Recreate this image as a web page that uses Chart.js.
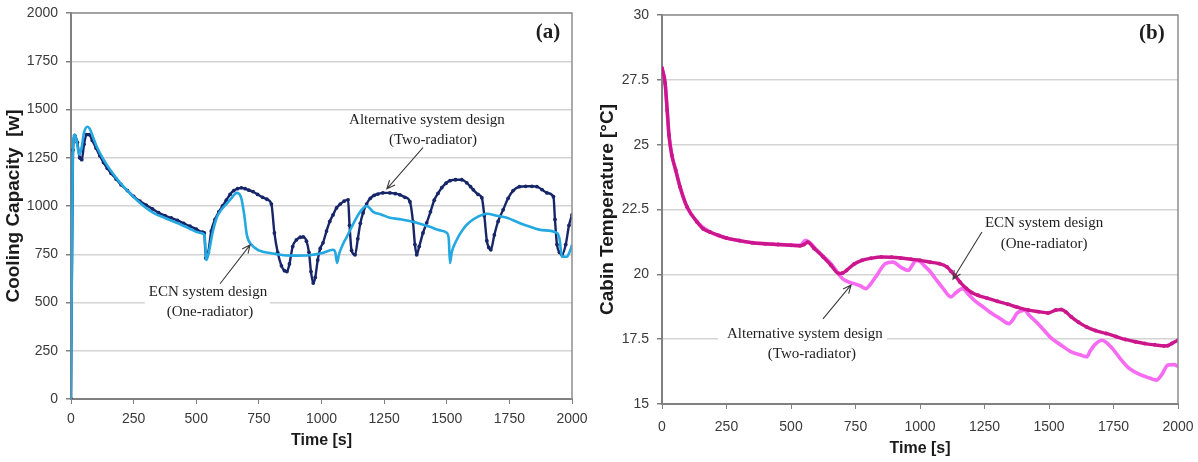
<!DOCTYPE html>
<html><head><meta charset="utf-8">
<script src="https://cdn.jsdelivr.net/npm/chart.js@4.4.1/dist/chart.umd.min.js"></script>
<style>
html,body{margin:0;padding:0;background:#fff;width:1198px;height:462px;overflow:hidden;}
#c1{position:absolute;left:0;top:0;width:590px;height:462px;}
#c2{position:absolute;left:590px;top:0;width:608px;height:462px;}
</style></head><body>
<canvas id="c1" width="590" height="462"></canvas>
<canvas id="c2" width="608" height="462"></canvas>
<script>
// ---------- DATA ----------
const timeTicks = [0,250,500,750,1000,1250,1500,1750,2000];
const capacityTicks = [0,250,500,750,1000,1250,1500,1750,2000];
const tempTicks = [15,17.5,20,22.5,25,27.5,30];

// (a) Cooling capacity [W] — Alternative system design (Two-radiator)
const altCapacity = [[0,0],[8,1290],[15,1365],[25,1330],[35,1250],[43,1240],[52,1320],[62,1370],[72,1370],[85,1340],[100,1300],[115,1260],[130,1225],[145,1195],[160,1170],[180,1140],[200,1110],[225,1080],[250,1050],[275,1025],[300,1005],[325,985],[350,965],[375,950],[400,938],[425,925],[450,910],[475,895],[500,880],[525,865],[532,860],[538,730],[548,760],[560,870],[575,930],[590,970],[605,1000],[620,1030],[635,1060],[650,1080],[665,1090],[680,1094],[695,1090],[710,1082],[727,1074],[745,1060],[765,1045],[782,1035],[800,1010],[812,860],[825,760],[840,690],[852,665],[862,660],[872,700],[885,790],[900,825],[915,838],[927,840],[940,818],[950,760],[958,660],[967,601],[975,630],[985,720],[995,780],[1006,809],[1020,870],[1033,920],[1046,954],[1060,990],[1075,1010],[1090,1025],[1106,1032],[1112,900],[1120,770],[1134,747],[1145,830],[1155,910],[1166,964],[1180,1010],[1195,1040],[1210,1055],[1225,1062],[1245,1068],[1273,1068],[1295,1064],[1313,1058],[1333,1045],[1353,1022],[1365,920],[1373,800],[1380,747],[1390,790],[1405,860],[1420,913],[1435,970],[1450,1030],[1465,1065],[1480,1095],[1497,1118],[1513,1131],[1535,1136],[1560,1136],[1580,1120],[1595,1100],[1606,1084],[1625,1060],[1640,1043],[1650,950],[1660,820],[1668,785],[1676,773],[1690,850],[1705,920],[1725,980],[1745,1040],[1765,1080],[1790,1100],[1815,1102],[1840,1102],[1860,1100],[1880,1085],[1900,1068],[1926,1048],[1932,930],[1940,800],[1950,760],[1960,747],[1975,800],[1988,900],[2000,954]];

// (a) Cooling capacity [W] — ECN system design (One-radiator)
const ecnCapacity = [[0,0],[7,1250],[15,1370],[22,1340],[33,1266],[42,1300],[52,1380],[65,1411],[75,1400],[90,1350],[103,1307],[130,1240],[156,1188],[200,1115],[249,1048],[290,1000],[329,964],[375,938],[422,913],[470,885],[515,861],[533,850],[540,720],[550,760],[565,860],[582,940],[600,980],[620,1010],[640,1040],[662,1068],[680,1040],[692,950],[702,850],[720,800],[750,770],[800,755],[850,745],[900,743],[950,745],[1000,755],[1046,773],[1055,760],[1062,705],[1070,750],[1085,800],[1101,840],[1120,890],[1140,940],[1160,980],[1181,1000],[1206,970],[1240,955],[1273,939],[1320,930],[1366,918],[1400,905],[1433,892],[1470,875],[1500,861],[1508,830],[1513,705],[1520,760],[1540,825],[1565,880],[1593,918],[1625,945],[1660,960],[1700,950],[1740,939],[1790,912],[1833,892],[1880,875],[1940,861],[1950,830],[1960,737],[1980,737],[1990,760],[2000,798]];

// (b) Cabin temperature [°C] — ECN system design (One-radiator)
const ecnTemp = [[0,27.96],[12,27.38],[20,26.34],[27,25.37],[38,24.6],[53,24.02],[70,23.37],[97,22.6],[136,22.02],[159,21.76],[186,21.63],[220,21.5],[250,21.4],[300,21.3],[350,21.22],[400,21.18],[450,21.15],[500,21.12],[535,21.1],[550,21.15],[565,21.24],[590,21.0],[625,20.67],[655,20.35],[685,20.03],[700,20.05],[715,20.15],[745,20.4],[775,20.54],[810,20.62],[850,20.67],[890,20.66],[925,20.63],[965,20.58],[1000,20.54],[1040,20.47],[1075,20.41],[1105,20.28],[1120,20.12],[1135,19.96],[1155,19.7],[1180,19.45],[1200,19.3],[1225,19.19],[1260,19.08],[1300,18.96],[1340,18.85],[1375,18.74],[1420,18.62],[1460,18.56],[1496,18.51],[1526,18.62],[1548,18.64],[1565,18.55],[1586,18.36],[1615,18.15],[1646,17.97],[1680,17.83],[1721,17.72],[1760,17.6],[1796,17.49],[1835,17.4],[1871,17.33],[1910,17.28],[1946,17.24],[1960,17.25],[1976,17.33],[2000,17.46]];

// (b) Cabin temperature [°C] — Alternative system design (Two-radiator)
const altTemp = [[0,27.96],[12,27.38],[20,26.34],[27,25.37],[38,24.6],[53,24.02],[70,23.37],[97,22.6],[136,22.02],[186,21.63],[250,21.4],[350,21.22],[450,21.15],[535,21.12],[557,21.31],[575,21.2],[595,20.99],[625,20.7],[655,20.41],[680,20.08],[700,19.83],[720,19.72],[745,19.64],[770,19.55],[790,19.45],[805,19.58],[835,20.0],[865,20.41],[895,20.47],[925,20.28],[955,20.15],[970,20.35],[985,20.54],[1000,20.5],[1015,20.35],[1040,20.1],[1060,19.83],[1090,19.45],[1120,19.13],[1140,19.3],[1165,19.45],[1190,19.2],[1210,19.0],[1240,18.78],[1270,18.55],[1310,18.3],[1345,18.1],[1360,18.25],[1375,18.49],[1405,18.62],[1425,18.4],[1450,18.17],[1480,17.85],[1510,17.53],[1550,17.25],[1586,17.01],[1620,16.9],[1646,16.82],[1660,17.05],[1676,17.27],[1706,17.46],[1725,17.35],[1751,17.08],[1780,16.7],[1811,16.37],[1856,16.12],[1890,16.0],[1916,15.92],[1935,16.1],[1961,16.5],[1985,16.52],[2000,16.45]];

// ---------- STYLE / ANNOTATIONS ----------
const toXY = arr => arr.map(p => ({x:p[0], y:p[1]}));
const tickFont = {family:'"Liberation Sans", Arial, sans-serif', size:14};
const tickColor = '#3a3a3a';
const plain = v => String(v);

const annoPlugin = {
  id:'anno',
  beforeDatasetsDraw(chart, args, o){
    const {ctx, scales:{x,y}} = chart;
    ctx.save();
    ctx.fillStyle = '#ffffff';
    (o.boxes||[]).forEach(b=>{
      const x0=x.getPixelForValue(b[0]), x1=x.getPixelForValue(b[1]);
      const y0=y.getPixelForValue(b[2]), y1=y.getPixelForValue(b[3]);
      ctx.fillRect(x0, y0, x1-x0, y1-y0);
    });
    ctx.restore();
  },
  afterDatasetsDraw(chart, args, o){
    const {ctx, chartArea:a, scales:{x,y}} = chart;
    ctx.save();
    ctx.strokeStyle = '#8f8f8f'; ctx.lineWidth = 1.5;
    ctx.beginPath(); ctx.moveTo(a.left, a.top); ctx.lineTo(a.right, a.top); ctx.lineTo(a.right, a.bottom); ctx.stroke();
    ctx.fillStyle = '#1e1e1e'; ctx.textAlign='center'; ctx.textBaseline='middle';
    (o.texts||[]).forEach(t=>{
      ctx.font = t.font;
      ctx.fillText(t.text, x.getPixelForValue(t.at[0]), y.getPixelForValue(t.at[1]));
    });
    ctx.strokeStyle = '#3c3c3c'; ctx.lineWidth = 1.1;
    (o.arrows||[]).forEach(ar=>{
      const x0=x.getPixelForValue(ar[0]), y0=y.getPixelForValue(ar[1]);
      const x1=x.getPixelForValue(ar[2]), y1=y.getPixelForValue(ar[3]);
      const ang = Math.atan2(y1-y0, x1-x0), L=9, w=0.42;
      ctx.beginPath(); ctx.moveTo(x0,y0); ctx.lineTo(x1,y1);
      ctx.moveTo(x1 - L*Math.cos(ang-w), y1 - L*Math.sin(ang-w)); ctx.lineTo(x1,y1);
      ctx.lineTo(x1 - L*Math.cos(ang+w), y1 - L*Math.sin(ang+w));
      ctx.stroke();
    });
    ctx.restore();
  }
};

function makeScales(o){
  return {
    x:{type:'linear', min:0, max:2000,
       afterBuildTicks:s=>{s.ticks = timeTicks.map(v=>({value:v}));},
       afterFit:s=>{s.height = o.xh; s.paddingLeft = 0; s.paddingRight = 0;},
       grid:{drawOnChartArea:false, drawTicks:true, tickLength:5, tickColor:'#808080'},
       border:{color:'#808080', width:2},
       ticks:{font:tickFont, color:tickColor, padding:o.xpad, maxRotation:0, callback:plain},
       title:{display:true, text:'Time [s]', color:'#1a1a1a',
              font:{family:'"Liberation Sans", Arial, sans-serif', size:16, weight:'bold'},
              padding:{top:0, bottom:o.xtpad}}},
    y:{type:'linear', min:o.ymin, max:o.ymax,
       afterBuildTicks:s=>{s.ticks = o.yticks.map(v=>({value:v}));},
       afterFit:s=>{s.width = o.yw; s.paddingTop = 0; s.paddingBottom = 0;},
       grid:{color:'#d4d4d4', lineWidth:1.5, drawTicks:true, tickLength:5, tickColor:'#808080'},
       border:{color:'#808080', width:2},
       ticks:{font:tickFont, color:tickColor, padding:8, callback:plain},
       title:{display:true, text:o.ytitle, color:'#1a1a1a',
              font:{family:'"Liberation Sans", Arial, sans-serif', size:19, weight:'bold'},
              padding:{top:o.ytpad, bottom:0}}}
  };
}

const serif = '15px "Liberation Serif", "Times New Roman", serif';
const serifB = 'bold 21px "Liberation Serif", "Times New Roman", serif';

new Chart(document.getElementById('c1'), {
  type:'line',
  data:{datasets:[
    {label:'ECN system design (One-radiator)', data:toXY(ecnCapacity), borderColor:'#23a8e2', backgroundColor:'#23a8e2',
     borderWidth:2.6, pointRadius:0, cubicInterpolationMode:'monotone'},
    {label:'Alternative system design (Two-radiator)', data:toXY(altCapacity), borderColor:'#172569', backgroundColor:'#172569',
     borderWidth:2.4, pointRadius:1.9, pointHoverRadius:0, pointBorderWidth:0, cubicInterpolationMode:'monotone'}
  ]},
  options:{responsive:false, animation:false, events:[],
    layout:{padding:{top:13, right:18, left:0, bottom:0}},
    plugins:{legend:{display:false}, tooltip:{enabled:false},
      anno:{
        boxes:[[295,794,602,410]],
        texts:[
          {text:'Alternative system design', at:[1421,1447], font:serif},
          {text:'(Two-radiator)', at:[1445,1343], font:serif},
          {text:'ECN system design', at:[547,555], font:serif},
          {text:'(One-radiator)', at:[555,451], font:serif},
          {text:'(a)', at:[1904,1898], font:serifB}
        ],
        arrows:[[1405,1302,1261,1089],[595,597,715,799]]
      }},
    scales:makeScales({xh:63, xpad:7, xtpad:12, ymin:0, ymax:2000, yticks:capacityTicks, yw:71,
      ytitle:'Cooling Capacity  [w]', ytpad:2})
  },
  plugins:[annoPlugin]
});

new Chart(document.getElementById('c2'), {
  type:'line',
  data:{datasets:[
    {label:'ECN system design (One-radiator)', data:toXY(ecnTemp), borderColor:'#cc168c', backgroundColor:'#cc168c',
     borderWidth:3.4, pointRadius:2, pointBorderWidth:0, cubicInterpolationMode:'monotone'},
    {label:'Alternative system design (Two-radiator)', data:toXY(altTemp), borderColor:'#f76af2', backgroundColor:'#f76af2',
     borderWidth:3.6, pointRadius:0, cubicInterpolationMode:'monotone'}
  ]},
  options:{responsive:false, animation:false, events:[],
    layout:{padding:{top:15, right:20, left:0, bottom:0}},
    plugins:{legend:{display:false}, tooltip:{enabled:false},
      anno:{
        boxes:[[217,872,18.0,16.62]],
        texts:[
          {text:'ECN system design', at:[1481,21.98], font:serif},
          {text:'(One-radiator)', at:[1481,21.17], font:serif},
          {text:'Alternative system design', at:[554,17.7], font:serif},
          {text:'(Two-radiator)', at:[581,16.93], font:serif},
          {text:'(b)', at:[1899,29.3], font:serifB}
        ],
        arrows:[[1240,21.63,1128,19.82],[624,18.28,733,19.59]]
      }},
    scales:makeScales({xh:58, xpad:10, xtpad:4, ymin:15, ymax:30, yticks:tempTicks, yw:72,
      ytitle:'Cabin Temperature [°C]', ytpad:6})
  },
  plugins:[annoPlugin]
});
</script>
</body></html>
